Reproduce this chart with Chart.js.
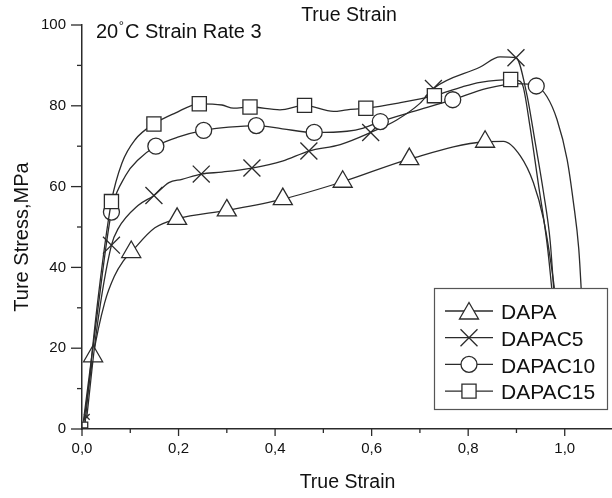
<!DOCTYPE html>
<html><head><meta charset="utf-8">
<script src="https://cdn.jsdelivr.net/npm/chart.js@4.4.1/dist/chart.umd.min.js"></script>
<style>html,body{margin:0;padding:0;background:#fff;overflow:hidden;width:612px;height:498px}canvas{display:block}</style>
</head><body>
<canvas id="c" width="620" height="498" style="width:620px;height:498px"></canvas>
<script>
// ---- data ----
const seriesNames = ['DAPA', 'DAPAC5', 'DAPAC10', 'DAPAC15'];

const dapaX = [0.003, 0.023, 0.047, 0.067, 0.085, 0.102, 0.151, 0.197, 0.300, 0.416, 0.540, 0.678, 0.835, 0.873, 0.908, 0.935, 0.956, 0.970, 0.980, 0.990];
const dapaY = [1, 18.0, 31.3, 37.8, 41.5, 43.8, 49.8, 52.0, 54.1, 56.9, 61.2, 66.8, 71.1, 71.2, 67.6, 61.0, 52.0, 42.2, 33.3, 20];
const dapaMarks = [1, 5, 7, 8, 9, 10, 11, 12];

const c5X = [0.010, 0.030, 0.061, 0.075, 0.116, 0.149, 0.180, 0.207, 0.247, 0.290, 0.352, 0.415, 0.470, 0.535, 0.598, 0.652, 0.700, 0.728, 0.825, 0.866, 0.899, 0.921, 0.939, 0.956, 0.970, 0.977, 0.985];
const c5Y = [3, 24.2, 45.5, 49.6, 55.3, 57.8, 61.0, 61.8, 63.1, 63.6, 64.6, 66.3, 68.8, 70.4, 73.4, 76.5, 80.6, 84.3, 89.6, 92.1, 91.9, 83.1, 70.8, 58.6, 46.3, 34.9, 22];
const c5Marks = [2, 5, 8, 10, 12, 14, 17, 20];
const c5SmallMarks = [0];

const c10X = [0.003, 0.030, 0.061, 0.090, 0.117, 0.153, 0.200, 0.252, 0.304, 0.361, 0.415, 0.481, 0.549, 0.583, 0.618, 0.687, 0.768, 0.839, 0.900, 0.941, 0.963, 0.984, 1.005, 1.018, 1.029, 1.034, 1.038];
const c10Y = [2, 27, 53.7, 62.7, 66.7, 70.0, 72.3, 73.9, 74.7, 75.1, 74.3, 73.4, 73.7, 74.5, 76.1, 78.6, 81.5, 84.3, 85.5, 84.9, 82.3, 76.6, 66.7, 56.1, 44.7, 34.9, 25];
const c10Marks = [2, 5, 7, 9, 11, 14, 16, 19];

const c15X = [0.006, 0.030, 0.061, 0.083, 0.110, 0.149, 0.193, 0.243, 0.290, 0.314, 0.348, 0.410, 0.461, 0.521, 0.549, 0.588, 0.652, 0.730, 0.788, 0.825, 0.888, 0.905, 0.914, 0.928, 0.945, 0.963, 0.973, 0.980];
const c15Y = [1, 29, 56.3, 65.9, 71.6, 75.5, 78.2, 80.5, 80.2, 79.4, 79.7, 79.0, 80.1, 78.6, 79.0, 79.4, 80.6, 82.5, 84.7, 85.8, 86.5, 86.2, 84.7, 74.9, 61.0, 46.3, 34.9, 25];
const c15Marks = [2, 5, 7, 10, 12, 15, 17, 20];
const c15SmallMarks = [0];

const xTickLabels = ['0,0', '0,2', '0,4', '0,6', '0,8', '1,0'];
const yTickLabels = ['0', '20', '40', '60', '80', '100'];
const titleText = 'True Strain';
const xTitle = 'True Strain';
const yTitle = 'Ture Stress,MPa';
const noteParts = ['20', '°', 'C Strain Rate 3'];

// ---- chart ----
const FONT = '"Liberation Sans", Arial, sans-serif';
const INK = '#2b2b2b';
const styles = [
  {pointStyle: 'triangle', radius: 11},
  {pointStyle: 'crossRot', radius: 12},
  {pointStyle: 'circle', radius: 8},
  {pointStyle: 'rect', radius: 10}
];
function pts(xs, ys) { return xs.map((x, i) => ({x: x, y: ys[i]})); }
function radiusFn(marks, r, small) {
  return ctx => marks.includes(ctx.dataIndex) ? r : ((small || []).includes(ctx.dataIndex) ? 4 : 0);
}
const raw = [
  [dapaX, dapaY, dapaMarks, []],
  [c5X, c5Y, c5Marks, c5SmallMarks],
  [c10X, c10Y, c10Marks, []],
  [c15X, c15Y, c15Marks, c15SmallMarks]
];
const datasets = raw.map((r, i) => ({
  label: seriesNames[i],
  data: pts(r[0], r[1]),
  borderColor: INK,
  borderWidth: 1.3,
  backgroundColor: '#fff',
  pointBackgroundColor: '#fff',
  pointBorderColor: INK,
  pointBorderWidth: 1.3,
  pointStyle: styles[i].pointStyle,
  pointRadius: radiusFn(r[2], styles[i].radius, r[3]),
  pointHoverRadius: 0,
  cubicInterpolationMode: 'monotone',
  fill: false,
  order: 3 - i
}));

const decor = {
  id: 'decor',
  afterDraw(chart) {
    const ctx = chart.ctx;
    const xs = chart.scales.x, ys = chart.scales.y;
    ctx.save();
    // ticks
    ctx.strokeStyle = INK; ctx.lineWidth = 1.3;
    const ax = ys.right, ay = xs.top;
    for (let v = 0; v <= 100; v += 10) {
      const py = ys.getPixelForValue(v);
      const len = v % 20 === 0 ? 11 : 5;
      ctx.beginPath(); ctx.moveTo(ax - len, py); ctx.lineTo(ax, py); ctx.stroke();
    }
    for (let i = 0; i <= 11; i++) {
      const px = xs.getPixelForValue(i / 10);
      const len = i % 2 === 0 ? 7 : 4;
      ctx.beginPath(); ctx.moveTo(px, ay); ctx.lineTo(px, ay + len); ctx.stroke();
    }
    // titles and note
    ctx.fillStyle = '#111';
    ctx.textBaseline = 'middle';
    ctx.font = '19.5px ' + FONT;
    ctx.textAlign = 'center';
    ctx.fillText(titleText, 349, 16);
    ctx.save();
    ctx.translate(22, 237); ctx.rotate(-Math.PI / 2);
    ctx.font = '20px ' + FONT;
    ctx.fillText(yTitle, 0, 0);
    ctx.restore();
    ctx.textAlign = 'left';
    let nx = 96;
    ctx.font = '20px ' + FONT;
    ctx.fillText(noteParts[0], nx, 32); nx += ctx.measureText(noteParts[0]).width;
    ctx.font = '13px ' + FONT;
    ctx.fillText(noteParts[1], nx + 0.5, 26); nx += ctx.measureText(noteParts[1]).width + 1.5;
    ctx.font = '20px ' + FONT;
    ctx.fillText(noteParts[2], nx, 32);
    // legend
    const L = 434, T = 288, W = 173, H = 121;
    ctx.fillStyle = '#fff';
    ctx.fillRect(L, T, W, H);
    ctx.strokeStyle = '#555'; ctx.lineWidth = 1.2;
    ctx.strokeRect(L + 0.5, T + 0.5, W, H);
    chart.data.datasets.forEach((ds, i) => {
      const ry = 311 + i * 26.7;
      ctx.strokeStyle = INK; ctx.lineWidth = 1.3;
      ctx.beginPath(); ctx.moveTo(445, ry); ctx.lineTo(493, ry); ctx.stroke();
      ctx.fillStyle = '#fff';
      Chart.helpers.drawPoint(ctx, {pointStyle: styles[i].pointStyle, radius: styles[i].radius, rotation: 0, borderWidth: 1.3},
        469, ry + (styles[i].pointStyle === 'triangle' ? 2.5 : 0));
      ctx.fillStyle = '#111';
      ctx.font = '21px ' + FONT;
      ctx.textAlign = 'left';
      ctx.fillText(ds.label, 501, ry + 2.5);
    });
    ctx.restore();
  }
};

new Chart(document.getElementById('c'), {
  type: 'line',
  data: {datasets: datasets},
  options: {
    responsive: false,
    animation: false,
    devicePixelRatio: 1,
    layout: {padding: {top: 21, right: 7, left: 0, bottom: 0}},
    plugins: {legend: {display: false}, tooltip: {enabled: false}, title: {display: false}},
    events: [],
    scales: {
      x: {
        type: 'linear', min: 0, max: 1.1,
        grid: {display: false, drawTicks: false},
        border: {display: true, color: INK, width: 1.5},
        ticks: {stepSize: 0.2, includeBounds: false, padding: 11, color: '#111',
          font: {size: 15, family: FONT},
          maxRotation: 0,
          callback: (v) => { const k = Math.round(v * 5); return (Math.abs(v * 5 - k) < 1e-6 && k < xTickLabels.length) ? xTickLabels[k] : ''; }},
        title: {display: true, text: xTitle, color: '#111', font: {size: 19.5, family: FONT}, padding: {top: 0, bottom: 4}},
        afterFit: s => { s.height = 69; }
      },
      y: {
        type: 'linear', min: 0, max: 100,
        grid: {display: false, drawTicks: false},
        border: {display: true, color: INK, width: 1.5},
        ticks: {stepSize: 20, padding: 16, color: '#111', font: {size: 15, family: FONT},
          callback: (v) => yTickLabels[Math.round(v / 20)] || ''},
        afterFit: s => { s.width = 82; }
      }
    }
  },
  plugins: [decor]
});
</script>
</body></html>
